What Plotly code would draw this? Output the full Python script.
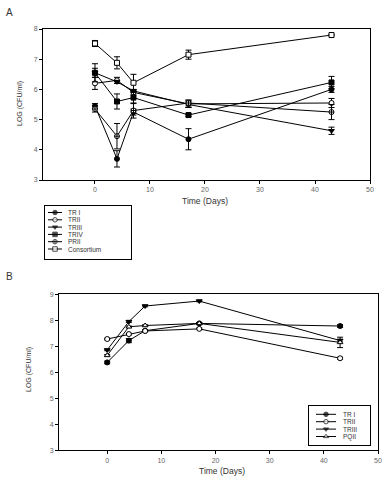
import plotly.graph_objects as go

# ---------------- Panel A data ----------------
days_a = [0, 4, 7, 17, 43]
a_tr1 = [5.45, 3.70, 5.25, 4.35, 6.00]
a_tr1_err = [0.08, 0.27, 0.10, 0.35, 0.10]
a_tr2 = [6.20, 6.30, 5.90, 5.52, 5.55]
a_tr2_err = [0.20, 0.10, 0.08, 0.12, 0.15]
a_tr3 = [6.55, 6.25, 5.95, 5.50, 4.63]
a_tr3_err = [0.30, 0.05, 0.05, 0.10, 0.12]
a_tr4 = [6.55, 5.60, 5.73, 5.15, 6.23]
a_tr4_err = [0.15, 0.25, 0.20, 0.05, 0.20]
a_pr2 = [5.35, 4.45, 5.30, 5.55, 5.25]
a_pr2_err = [0.10, 0.42, 0.25, 0.10, 0.25]
a_cons = [7.52, 6.88, 6.22, 7.15, 7.80]
a_cons_err = [0.10, 0.20, 0.28, 0.15, 0.02]

# ---------------- Panel B data ----------------
days_b = [0, 4, 7, 17, 43]
b_tr1 = [6.38, 7.22, 7.60, 7.88, 7.78]
b_tr1_err = [0.05, 0.08, 0.03, 0.03, 0.05]
b_tr2 = [7.28, 7.47, 7.59, 7.67, 6.54]
b_tr2_err = [0.03, 0.03, 0.03, 0.03, 0.04]
b_tr3 = [6.86, 7.95, 8.55, 8.74, 7.22]
b_tr3_err = [0.03, 0.03, 0.03, 0.03, 0.05]
b_pq2 = [6.65, 7.75, 7.80, 7.88, 7.15]
b_pq2_err = [0.03, 0.03, 0.03, 0.03, 0.20]

legend_a_names = ["TR I", "TRII", "TRIII", "TRIV", "PRII", "Consortium"]
legend_b_names = ["TR I", "TRII", "TRIII", "PQII"]

W, H = 392, 480
def px_x(p): return p / W
def px_y(p): return 1 - p / H

MS = 5
fig = go.Figure()

def mk(symbol, filled, size=MS):
    return dict(symbol=symbol, size=size,
                color="black" if filled else "white",
                line=dict(color="black", width=1))

def add(x, y, err, name, symbol, filled, xa, ya):
    fig.add_trace(go.Scatter(
        x=x, y=y, name=name, mode="lines+markers", showlegend=False,
        xaxis=xa, yaxis=ya,
        line=dict(color="black", width=1),
        marker=mk(symbol, filled),
        error_y=dict(type="data", array=err, visible=True,
                     color="black", thickness=1, width=3),
    ))

styles_a = [("circle", True), ("circle", False), ("triangle-down", True),
            ("square", True), ("circle-cross", False), ("square", False)]
styles_b = [("circle", True), ("circle", False), ("triangle-down", True),
            ("triangle-up", False)]

series_a = [(a_tr1, a_tr1_err), (a_tr2, a_tr2_err), (a_tr3, a_tr3_err),
            (a_tr4, a_tr4_err), (a_pr2, a_pr2_err), (a_cons, a_cons_err)]
series_b = [(b_tr1, b_tr1_err), (b_tr2, b_tr2_err), (b_tr3, b_tr3_err),
            (b_pq2, b_pq2_err)]

for (y, e), name, (sym, f) in zip(series_a, legend_a_names, styles_a):
    add(days_a, y, e, name, sym, f, "x", "y")
for (y, e), name, (sym, f) in zip(series_b, legend_b_names, styles_b):
    add(days_b, y, e, name, sym, f, "x2", "y2")

# ---- hand-made legends (compact, like the original) ----
def legend_samples(names, styles, xa, ya):
    for i, (name, (sym, f)) in enumerate(zip(names, styles)):
        fig.add_trace(go.Scatter(
            x=[0.0, 0.5, 1.0], y=[i, i, i], mode="lines+markers",
            showlegend=False, hoverinfo="skip", xaxis=xa, yaxis=ya,
            line=dict(color="black", width=1),
            marker=dict(symbol=sym, size=[0, 4.5, 0],
                        color="black" if f else "white",
                        line=dict(color="black", width=1)),
        ))
        fig.add_annotation(text=name, x=1.25, y=i, xref=xa, yref=ya,
                           showarrow=False, xanchor="left", yanchor="middle",
                           font=dict(size=6.5, color="#333"))

legend_samples(legend_a_names, styles_a, "x3", "y3")
legend_samples(legend_b_names, styles_b, "x4", "y4")

tickfont = dict(family="Liberation Sans, Arial, sans-serif", size=7, color="#666")
axcommon = dict(showline=True, linecolor="black", linewidth=1, mirror=True,
                ticks="outside", ticklen=3, tickcolor="black", tickwidth=1,
                showgrid=False, zeroline=False, tickfont=tickfont,
                automargin=False)
legax = dict(showline=True, linecolor="black", linewidth=1, mirror=True,
             showticklabels=False, ticks="", showgrid=False, zeroline=False,
             automargin=False, fixedrange=True)

fig.update_layout(
    width=W, height=H, margin=dict(l=0, r=0, t=0, b=0, autoexpand=False),
    paper_bgcolor="white", plot_bgcolor="white",
    font=dict(family="Liberation Sans, Arial, sans-serif", size=7, color="#333"),
    showlegend=False,
    xaxis=dict(domain=[px_x(43), px_x(370)], range=[-9.45, 50], dtick=10,
               anchor="y", **axcommon),
    yaxis=dict(domain=[px_y(180), px_y(29)], range=[3, 8], dtick=1,
               anchor="x", **axcommon),
    xaxis2=dict(domain=[px_x(59), px_x(378)], range=[-8.9, 50], dtick=10,
                anchor="y2", **axcommon),
    yaxis2=dict(domain=[px_y(450.3), px_y(294.3)], range=[3, 9], dtick=1,
                anchor="x2", **axcommon),
    # legend A box: x 45..131, y 206..259 px ; samples line 48..62 px
    xaxis3=dict(domain=[px_x(45), px_x(131)], anchor="y3",
                range=[(45 - 48) / 14, (131 - 48) / 14], **legax),
    yaxis3=dict(domain=[px_y(259), px_y(206)], anchor="x3",
                range=[(259 - 212.5) / 7.3, (206 - 212.5) / 7.3], **legax),
    # legend B box: x 309..370, y 406..445 px ; samples line 316..336 px
    xaxis4=dict(domain=[px_x(309), px_x(370)], anchor="y4",
                range=[(309 - 316) / 20, (370 - 316) / 20], **legax),
    yaxis4=dict(domain=[px_y(445), px_y(406)], anchor="x4",
                range=[(445 - 414.3) / 7.4, (406 - 414.3) / 7.4], **legax),
)

titlefont = dict(family="Liberation Sans, Arial, sans-serif", size=8.5, color="#333")
fig.add_annotation(text="A", x=px_x(4), y=px_y(12), xref="paper", yref="paper",
                   showarrow=False, xanchor="left", yanchor="middle",
                   font=dict(size=10, color="#333"))
fig.add_annotation(text="B", x=px_x(4), y=px_y(276), xref="paper", yref="paper",
                   showarrow=False, xanchor="left", yanchor="middle",
                   font=dict(size=10, color="#333"))
fig.add_annotation(text="Time (Days)", x=px_x(205), y=px_y(201), xref="paper", yref="paper",
                   showarrow=False, xanchor="center", yanchor="middle", font=titlefont)
fig.add_annotation(text="Time (Days)", x=px_x(222), y=px_y(471), xref="paper", yref="paper",
                   showarrow=False, xanchor="center", yanchor="middle", font=titlefont)
fig.add_annotation(text="LOG (CFU/ml)", x=px_x(20), y=px_y(104), xref="paper", yref="paper",
                   showarrow=False, textangle=-90, xanchor="center", yanchor="middle",
                   font=dict(size=7, color="#333"))
fig.add_annotation(text="LOG (CFU/ml)", x=px_x(29), y=px_y(370), xref="paper", yref="paper",
                   showarrow=False, textangle=-90, xanchor="center", yanchor="middle",
                   font=dict(size=7, color="#333"))

fig.write_html("out.html",
               config={"displayModeBar": False},
               post_script="document.body.style.margin='0';document.body.style.overflow='hidden';")
